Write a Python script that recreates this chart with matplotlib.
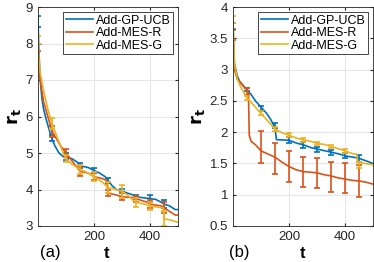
import matplotlib
matplotlib.use("Agg")
import matplotlib.pyplot as plt

plt.rcParams['font.family'] = ['Liberation Sans', 'DejaVu Sans']

labels = ["Add-GP-UCB", "Add-MES-R", "Add-MES-G"]
colors = ["#0072BD", "#D95319", "#EDB120"]
err_t = [0, 50, 100, 150, 200, 250, 300, 350, 400, 450]

# ---- panel (a) ----
a_blue_t = [0, 3, 8, 14, 20, 30, 45, 50, 60, 75, 90, 100, 120, 140, 150, 180, 200, 220, 240, 250, 265, 280, 300, 320, 340, 350, 380, 400, 420, 440, 450, 470, 490, 500]
a_blue_y = [8.7, 7.8, 7.0, 6.5, 6.2, 5.9, 5.5, 5.4, 5.2, 5.0, 4.9, 4.87, 4.85, 4.75, 4.65, 4.6, 4.52, 4.45, 4.35, 4.25, 4.1, 4.0, 3.95, 3.9, 3.85, 3.8, 3.77, 3.75, 3.73, 3.65, 3.6, 3.55, 3.45, 3.45]
a_red_t = [0, 3, 8, 20, 35, 50, 65, 80, 100, 120, 135, 150, 180, 200, 230, 245, 250, 280, 300, 340, 350, 390, 400, 440, 450, 470, 490, 500]
a_red_y = [7.9, 7.4, 7.0, 6.4, 6.0, 5.6, 5.4, 5.2, 5.0, 4.8, 4.65, 4.5, 4.45, 4.35, 4.3, 4.25, 3.9, 3.85, 3.8, 3.78, 3.75, 3.65, 3.6, 3.55, 3.5, 3.4, 3.3, 3.3]
a_yel_t = [0, 3, 8, 20, 35, 50, 60, 75, 90, 100, 120, 150, 180, 200, 230, 250, 280, 300, 320, 340, 350, 380, 400, 440, 448, 450, 480, 500]
a_yel_y = [8.1, 7.6, 7.2, 6.7, 6.2, 5.8, 5.6, 5.3, 5.0, 4.85, 4.7, 4.55, 4.45, 4.35, 4.2, 4.05, 4.0, 3.95, 3.85, 3.7, 3.65, 3.6, 3.55, 3.5, 3.5, 3.2, 3.15, 3.1]
a_blue_m = [8.6, 5.4, 4.9, 4.65, 4.52, 4.25, 3.97, 3.8, 3.75, 3.6]
a_blue_e = [0.15, 0.08, 0.1, 0.07, 0.07, 0.07, 0.05, 0.06, 0.1, 0.1]
a_red_m = [7.9, 5.6, 5.0, 4.5, 4.35, 3.9, 3.8, 3.75, 3.6, 3.5]
a_red_e = [0.1, 0.15, 0.1, 0.12, 0.1, 0.08, 0.1, 0.08, 0.1, 0.15]
a_yel_m = [8.1, 5.8, 4.85, 4.55, 4.35, 4.05, 3.95, 3.65, 3.55, 3.2]
a_yel_e = [0.1, 0.15, 0.1, 0.12, 0.12, 0.15, 0.18, 0.12, 0.12, 0.2]

# ---- panel (b) ----
b_blue_t = [0, 5, 15, 25, 40, 50, 65, 80, 100, 120, 135, 150, 155, 200, 230, 250, 280, 300, 330, 350, 380, 400, 430, 450, 470, 500]
b_blue_y = [3.7, 3.1, 2.9, 2.8, 2.72, 2.68, 2.6, 2.5, 2.4, 2.3, 2.2, 2.07, 1.88, 1.87, 1.82, 1.8, 1.75, 1.73, 1.7, 1.68, 1.65, 1.62, 1.6, 1.58, 1.55, 1.5]
b_red_t = [0, 5, 15, 30, 45, 55, 58, 65, 80, 100, 125, 150, 175, 200, 225, 250, 275, 300, 325, 350, 375, 400, 425, 450, 475, 500]
b_red_y = [3.55, 3.0, 2.85, 2.78, 2.7, 2.65, 1.95, 1.85, 1.8, 1.7, 1.65, 1.6, 1.52, 1.45, 1.4, 1.37, 1.36, 1.35, 1.32, 1.3, 1.27, 1.25, 1.23, 1.22, 1.2, 1.17]
b_yel_t = [0, 5, 15, 30, 50, 70, 100, 120, 150, 170, 200, 230, 250, 280, 300, 330, 350, 380, 400, 430, 442, 445, 470, 500]
b_yel_y = [3.8, 3.1, 2.85, 2.7, 2.55, 2.45, 2.3, 2.2, 2.05, 2.0, 1.95, 1.9, 1.88, 1.85, 1.82, 1.8, 1.77, 1.73, 1.7, 1.65, 1.65, 1.52, 1.5, 1.48]
b_blue_m = [3.7, 2.68, 2.38, 2.1, 1.87, 1.8, 1.73, 1.68, 1.62, 1.58]
b_blue_e = [0.05, 0.03, 0.04, 0.04, 0.05, 0.05, 0.04, 0.04, 0.04, 0.05]
b_red_m = [3.55, 2.65, 1.76, 1.58, 1.45, 1.36, 1.34, 1.29, 1.26, 1.22]
b_red_e = [0.08, 0.05, 0.26, 0.25, 0.25, 0.24, 0.24, 0.24, 0.24, 0.25]
b_yel_m = [3.8, 2.55, 2.3, 2.05, 1.95, 1.88, 1.82, 1.77, 1.7, 1.47]
b_yel_e = [0.05, 0.03, 0.03, 0.03, 0.03, 0.03, 0.03, 0.03, 0.03, 0.05]

fig = plt.figure(figsize=(3.74, 2.62), dpi=100)
ax_a = fig.add_axes([38/374, 1 - 226/262, 140/374, 219/262])
ax_b = fig.add_axes([233/374, 1 - 226/262, 140/374, 219/262])

panels = [
    (ax_a, [(a_blue_t, a_blue_y, a_blue_m, a_blue_e),
            (a_red_t, a_red_y, a_red_m, a_red_e),
            (a_yel_t, a_yel_y, a_yel_m, a_yel_e)],
     (3, 9), [3, 4, 5, 6, 7, 8, 9], ["3", "4", "5", "6", "7", "8", "9"]),
    (ax_b, [(b_blue_t, b_blue_y, b_blue_m, b_blue_e),
            (b_red_t, b_red_y, b_red_m, b_red_e),
            (b_yel_t, b_yel_y, b_yel_m, b_yel_e)],
     (0.5, 4), [0.5, 1, 1.5, 2, 2.5, 3, 3.5, 4], ["0.5", "1", "1.5", "2", "2.5", "3", "3.5", "4"]),
]

for ax, series, ylim, yt, ytl in panels:
    for (t, y, m, e), c, lab in zip(series, colors, labels):
        ax.plot(t, y, color=c, lw=1.2, label=lab)
        ax.errorbar(err_t, m, yerr=e, fmt='none', ecolor=c, elinewidth=1.2, capsize=2, capthick=1.2)
    ax.set_xlim(0, 500)
    ax.set_ylim(*ylim)
    ax.set_xticks([200, 400])
    ax.set_yticks(yt)
    ax.set_yticklabels(ytl)
    ax.grid(True, color='#e6e6e6', lw=0.8)
    ax.set_axisbelow(True)
    ax.tick_params(direction='in', length=2.5, labelsize=9.5, colors='#262626', top=True, right=True)
    for s in ax.spines.values():
        s.set_color('#262626')
        s.set_linewidth(0.6)
    leg = ax.legend(loc='upper right', fontsize=9, handlelength=2.2, handletextpad=0.2,
                    borderpad=0.2, labelspacing=0.05, fancybox=False, framealpha=1,
                    borderaxespad=0.4)
    leg.get_frame().set_edgecolor('#262626')
    leg.get_frame().set_linewidth(0.6)
    ax.set_ylabel(r'$\mathbf{r_t}$', fontsize=13, labelpad=2)

fig.text(50/374, 1 - 252/262, "(a)", fontsize=12, ha='center', va='center')
fig.text(107/374, 1 - 253/262, "t", fontsize=12, fontweight='bold', ha='center', va='center')
fig.text(239/374, 1 - 252/262, "(b)", fontsize=12, ha='center', va='center')
fig.text(303/374, 1 - 253/262, "t", fontsize=12, fontweight='bold', ha='center', va='center')

fig.savefig("out.png", dpi=100)
